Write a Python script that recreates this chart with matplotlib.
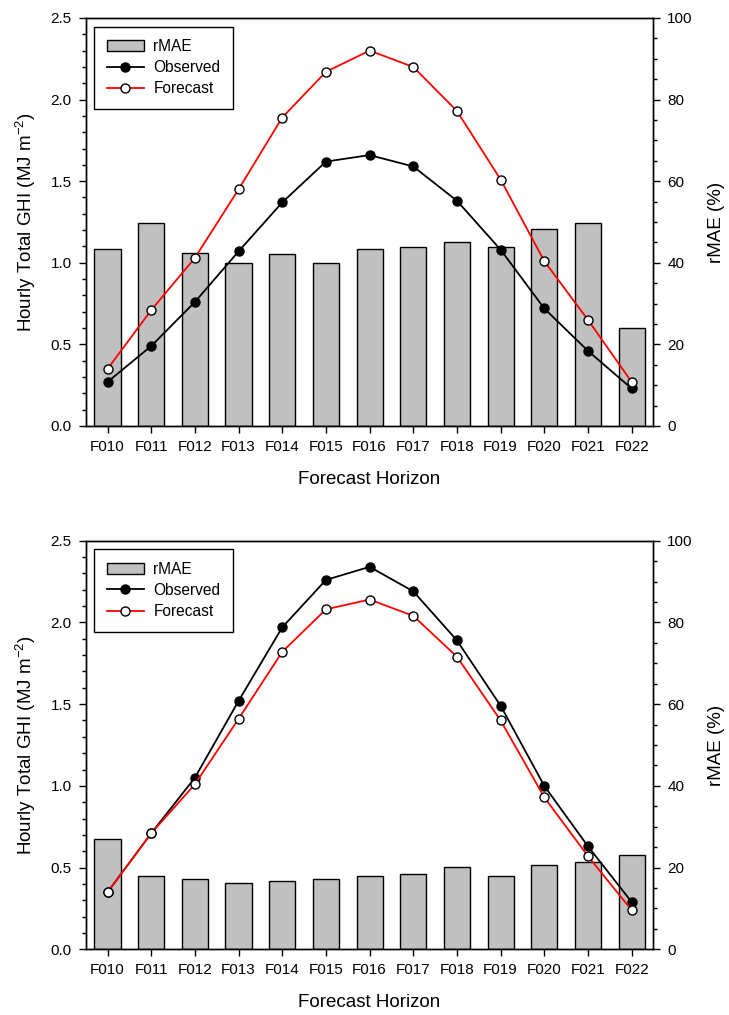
import numpy as np
import matplotlib
matplotlib.use("Agg")
import matplotlib.pyplot as plt
from matplotlib.patches import Patch
from matplotlib.lines import Line2D
from matplotlib.ticker import MultipleLocator

plt.rcParams['font.family'] = ['Liberation Sans', 'DejaVu Sans']
plt.rcParams['mathtext.default'] = 'regular'

horizons = ["F010", "F011", "F012", "F013", "F014", "F015", "F016",
            "F017", "F018", "F019", "F020", "F021", "F022"]

# top panel
obs_top = [0.27, 0.49, 0.76, 1.07, 1.37, 1.62, 1.66, 1.59, 1.38, 1.08, 0.72, 0.46, 0.23]
fc_top = [0.35, 0.71, 1.03, 1.45, 1.89, 2.17, 2.30, 2.20, 1.93, 1.51, 1.01, 0.65, 0.27]
rmae_top = [43.5, 49.8, 42.5, 40.0, 42.1, 40.0, 43.5, 43.9, 45.2, 43.9, 48.4, 49.8, 23.9]

# bottom panel
obs_bot = [0.35, 0.71, 1.05, 1.52, 1.97, 2.26, 2.34, 2.19, 1.89, 1.49, 1.00, 0.63, 0.29]
fc_bot = [0.35, 0.71, 1.01, 1.41, 1.82, 2.08, 2.14, 2.04, 1.79, 1.40, 0.93, 0.57, 0.24]
rmae_bot = [26.9, 18.0, 17.1, 16.2, 16.8, 17.3, 18.0, 18.4, 20.2, 17.9, 20.7, 21.4, 23.2]


def draw_panel(fig, rect, obs, fc, rmae):
    ax = fig.add_axes(rect)
    ax2 = ax.twinx()
    ax.set_zorder(ax2.get_zorder() + 1)
    ax.patch.set_visible(False)

    x = np.arange(len(horizons))
    ax2.bar(x, rmae, 0.6, color='#c0c0c0', edgecolor='black', linewidth=1.0)
    ax.plot(x, obs, color='black', lw=1.3, marker='o', ms=6.5,
            mfc='black', mec='black', zorder=3)
    ax.plot(x, fc, color='red', lw=1.3, marker='o', ms=6.5,
            mfc='white', mec='black', mew=1.0, zorder=4)

    ax.set_xlim(-0.5, 12.5)
    ax.set_ylim(0, 2.5)
    ax2.set_ylim(0, 100)
    ax.yaxis.set_major_locator(MultipleLocator(0.5))
    ax.yaxis.set_minor_locator(MultipleLocator(0.1))
    ax2.yaxis.set_major_locator(MultipleLocator(20))
    ax2.yaxis.set_minor_locator(MultipleLocator(5))
    ax.yaxis.set_major_formatter(plt.FormatStrFormatter('%.1f'))
    ax.set_xticks(x, horizons)

    for a in (ax, ax2):
        for s in a.spines.values():
            s.set_linewidth(1.0)
        a.tick_params(which='major', direction='out', length=5, width=1.0,
                      labelsize=11, pad=5)
        a.tick_params(which='minor', direction='out', length=2.8, width=1.0)
    ax.tick_params(axis='x', which='minor', bottom=False)

    ax.set_xlabel('Forecast Horizon', fontsize=13.5, labelpad=12)
    ax.set_ylabel('Hourly Total GHI (MJ m$^{-2}$)', fontsize=13.5, labelpad=9)
    ax2.set_ylabel('rMAE (%)', fontsize=13.5, labelpad=11)

    handles = [Patch(facecolor='#c0c0c0', edgecolor='black', linewidth=1.0),
               Line2D([], [], color='black', lw=1.3, marker='o', ms=6.5,
                      mfc='black', mec='black'),
               Line2D([], [], color='red', lw=1.3, marker='o', ms=6.5,
                      mfc='white', mec='black')]
    leg = ax.legend(handles, ['rMAE', 'Observed', 'Forecast'], loc='upper left',
                    fontsize=11.2, fancybox=False, edgecolor='black', framealpha=1,
                    borderaxespad=0.55, handlelength=2.4, labelspacing=0.4,
                    borderpad=0.8, handletextpad=0.6)
    leg.get_frame().set_linewidth(1.0)


fig = plt.figure(figsize=(7.29, 10.15), dpi=100)
draw_panel(fig, [0.1176, 0.5803, 0.7788, 0.4020], obs_top, fc_top, rmae_top)
draw_panel(fig, [0.1176, 0.0647, 0.7788, 0.4026], obs_bot, fc_bot, rmae_bot)
fig.savefig('out.png', dpi=100)
